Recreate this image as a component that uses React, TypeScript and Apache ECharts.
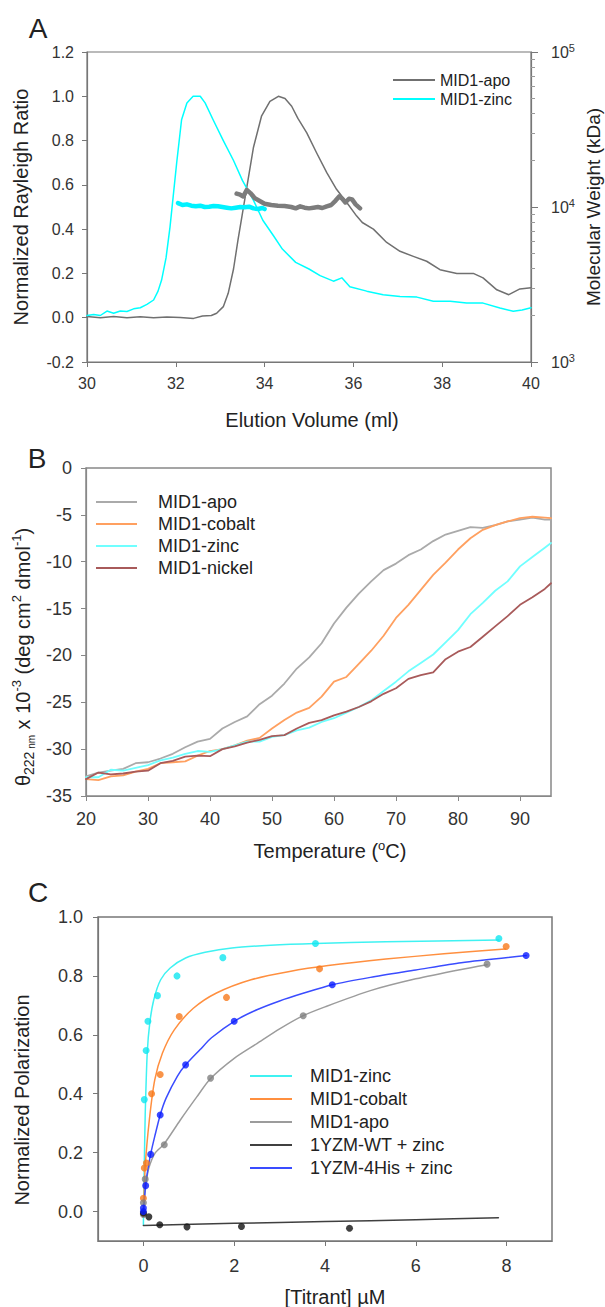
import React, { useEffect, useRef } from 'react';
import * as echarts from 'echarts';

const FONT = '"Liberation Sans", Arial, Helvetica, sans-serif';
const TXT = '#222';

// ---------- Panel A : SEC-MALS ----------
const aVolApo = [30.0,30.3,30.6,30.9,31.2,31.5,31.8,32.1,32.4,32.6,32.8,32.92,33.07,33.18,33.3,33.4,33.5,33.6,33.75,33.93,34.12,34.31,34.46,34.61,34.75,34.95,35.17,35.4,35.62,35.85,36.07,36.2,36.45,36.75,37.05,37.35,37.65,37.95,38.33,38.7,38.92,39.23,39.5,39.75,40.0];
const aRayApo = [0.005,0.0,0.006,0.0,0.004,0.0,0.003,0.001,-0.003,0.008,0.01,0.02,0.05,0.11,0.22,0.35,0.47,0.59,0.77,0.91,0.977,1.0,0.99,0.955,0.90,0.835,0.745,0.655,0.58,0.52,0.46,0.43,0.40,0.34,0.30,0.277,0.255,0.217,0.20,0.20,0.18,0.126,0.104,0.13,0.135];
const aVolZinc = [30.0,30.15,30.3,30.45,30.6,30.75,30.9,31.05,31.2,31.35,31.5,31.6,31.68,31.78,31.87,32.02,32.13,32.25,32.39,32.55,32.66,32.84,33.07,33.3,33.5,33.75,33.96,34.2,34.4,34.7,35.0,35.25,35.55,35.74,35.92,36.3,36.67,37.05,37.43,37.8,38.18,38.55,38.92,39.3,39.6,39.8,40.0];
const aRayZinc = [0.01,0.015,0.01,0.03,0.02,0.03,0.028,0.04,0.045,0.06,0.08,0.12,0.17,0.27,0.41,0.70,0.894,0.97,1.0,1.0,0.97,0.894,0.80,0.71,0.62,0.53,0.44,0.37,0.31,0.25,0.22,0.19,0.165,0.18,0.14,0.12,0.104,0.096,0.093,0.074,0.074,0.066,0.066,0.044,0.029,0.035,0.045];
const aVolZincMW = [32.05,32.15,32.25,32.35,32.45,32.55,32.65,32.75,32.85,32.95,33.05,33.15,33.25,33.35,33.45,33.55,33.65,33.75,33.85,33.95,34.0];
const aMWZinc = [10600,10300,10400,10200,10100,10200,10000,10050,10150,10100,10000,9900,9800,9900,10000,9950,10050,9800,9700,9850,9700];
const aVolApoMW = [33.37,33.45,33.52,33.6,33.68,33.78,33.9,34.0,34.15,34.3,34.45,34.6,34.7,34.8,34.9,35.0,35.1,35.2,35.3,35.4,35.5,35.6,35.68,35.75,35.82,35.9,35.97,36.05,36.15];
const aMWApo = [12200,12000,11700,12900,12300,11400,10900,10500,10300,10200,10150,10000,9800,10100,9900,9800,9900,10000,9850,10100,10300,11000,11700,11300,10700,11300,11200,10400,9800];

// ---------- Panel B : CD melts ----------
const bTemp = [20,22,24,26,28,30,32,34,36,38,40,42,44,46,48,50,52,54,56,58,60,62,64,66,68,70,72,74,76,78,80,82,84,86,88,90,92,94,95];
const bApo = [-32.9,-32.5,-32.3,-32.1,-31.5,-31.4,-31.0,-30.5,-29.8,-29.2,-28.9,-27.8,-27.1,-26.5,-25.2,-24.3,-23.0,-21.4,-20.2,-18.7,-16.6,-14.9,-13.4,-12.1,-10.9,-10.2,-9.3,-8.7,-7.8,-7.1,-6.7,-6.3,-6.4,-6.1,-5.7,-5.5,-5.3,-5.5,-5.5];
const bCobalt = [-33.2,-33.3,-32.9,-32.8,-32.4,-32.1,-31.5,-31.4,-31.3,-30.7,-30.2,-30.0,-29.6,-29.1,-28.8,-27.8,-26.9,-26.1,-25.6,-24.4,-22.8,-22.3,-20.9,-19.5,-17.9,-16.0,-14.6,-13.0,-11.4,-10.1,-8.7,-7.5,-6.6,-6.1,-5.7,-5.35,-5.2,-5.3,-5.35];
const bZinc = [-33.0,-33.0,-32.2,-32.3,-32.0,-31.7,-31.2,-30.9,-30.5,-30.2,-30.3,-30.0,-29.6,-29.2,-29.2,-28.7,-28.5,-28.0,-27.7,-27.1,-26.7,-26.1,-25.5,-24.8,-23.8,-22.8,-21.7,-20.8,-19.9,-18.6,-17.3,-15.6,-14.4,-13.1,-12.1,-10.5,-9.5,-8.5,-8.0];
const bNickel = [-33.2,-32.5,-32.7,-32.6,-32.4,-32.3,-31.5,-31.25,-30.8,-30.7,-30.75,-30.0,-29.7,-29.3,-29.0,-28.6,-28.5,-27.8,-27.2,-26.9,-26.4,-26.0,-25.5,-24.9,-24.1,-23.5,-22.5,-22.1,-21.8,-20.4,-19.6,-19.1,-18.0,-16.9,-15.8,-14.6,-13.8,-12.9,-12.3];
const bXTicks = [20,30,40,50,60,70,80,90];

// ---------- Panel C : fluorescence polarization ----------
const cZincPtX = [0.02,0.06,0.10,0.31,0.74,1.75,3.79,7.83];
const cZincPtY = [0.38,0.547,0.646,0.733,0.80,0.862,0.91,0.927];
const cZincFitX = [0,0.01,0.02,0.04,0.085,0.14,0.23,0.38,0.59,0.93,1.36,1.95,2.8,3.79,5.34,7.83];
const cZincFitY = [-0.045,0.07,0.16,0.33,0.54,0.64,0.72,0.787,0.827,0.861,0.88,0.895,0.904,0.91,0.916,0.922];
const cCobaltPtX = [0,0,0.02,0.066,0.18,0.37,0.79,1.83,3.88,7.99];
const cCobaltPtY = [-0.006,0.045,0.148,0.165,0.40,0.465,0.662,0.727,0.824,0.90];
const cCobaltFitX = [0,0.04,0.13,0.25,0.42,0.68,1.1,1.61,2.37,3.22,4.07,5.34,6.62,7.97];
const cCobaltFitY = [-0.01,0.153,0.31,0.447,0.538,0.617,0.69,0.742,0.787,0.815,0.835,0.857,0.875,0.891];
const cApoPtX = [0,0,0.04,0.46,1.48,3.52,7.57];
const cApoPtY = [-0.01,0.03,0.11,0.227,0.453,0.665,0.84];
const cApoFitX = [0,0.03,0.06,0.12,0.26,0.45,0.81,1.18,1.47,2.0,2.5,3.0,3.52,4.0,5.0,6.0,7.0,7.57];
const cApoFitY = [0.0,0.06,0.10,0.148,0.199,0.228,0.31,0.39,0.45,0.52,0.57,0.62,0.665,0.695,0.75,0.79,0.822,0.838];
const cWTPtX = [0,0.12,0.36,0.96,2.16,4.54];
const cWTPtY = [-0.005,-0.018,-0.045,-0.052,-0.051,-0.057];
const cWTFitX = [0,2,4,6,7.82];
const cWTFitY = [-0.047,-0.04,-0.034,-0.028,-0.021];
const cHisPtX = [0,0,0.05,0.16,0.37,0.93,2.0,4.16,8.43];
const cHisPtY = [0.0,0.012,0.088,0.194,0.328,0.498,0.646,0.77,0.869];
const cHisFitX = [0,0.05,0.1,0.16,0.25,0.37,0.5,0.75,0.93,1.25,1.5,2.0,2.5,3.0,3.5,4.16,5.0,6.0,7.0,8.43];
const cHisFitY = [0.0,0.09,0.145,0.195,0.255,0.328,0.385,0.46,0.498,0.55,0.59,0.646,0.685,0.715,0.74,0.77,0.795,0.82,0.845,0.869];
const cXTicks = [0,2,4,6,8];
const cYTicks = [0,0.2,0.4,0.6,0.8,1.0];

const zip = (xs: number[], ys: number[]) => xs.map((x, i) => [x, ys[i]]);

const C_ZINC = '#3ff2f2', C_COBALT = '#ff8f3f', C_APO = '#9c9c9c', C_WT = '#404040', C_HIS = '#3a4cff';

function axisBase(color: string, fontSize: number, margin: number) {
  return {
    axisLine: { show: true, onZero: false, lineStyle: { color, width: 1.2 } },
    axisTick: { show: true, length: 5, inside: false, lineStyle: { color, width: 1 } },
    axisLabel: { fontSize, margin, color: '#333', fontFamily: FONT },
    splitLine: { show: false },
  };
}

function lineSeries(name: string, xi: number, yi: number, data: number[][], color: string, width: number, z = 2, smooth: any = false) {
  return {
    name, type: 'line', xAxisIndex: xi, yAxisIndex: yi, data, symbol: 'none', z, smooth,
    lineStyle: { color, width, cap: 'round', join: 'round' }, itemStyle: { color },
  };
}
function dotSeries(name: string, data: number[][], color: string) {
  return {
    name, type: 'scatter', xAxisIndex: 2, yAxisIndex: 3, data, symbolSize: 7, z: 4,
    itemStyle: { color },
  };
}

const legendBase = {
  orient: 'vertical', icon: 'rect', itemHeight: 2, padding: 0, selectedMode: false,
};

const option: any = {
  animation: false,
  textStyle: { fontFamily: FONT },
  grid: [
    { left: 87, top: 52, width: 444, height: 310, show: true, borderColor: '#777', borderWidth: 1.2, backgroundColor: 'transparent' },
    { left: 86, top: 468, width: 465, height: 328, show: true, borderColor: '#888', borderWidth: 1.5, backgroundColor: 'transparent' },
    { left: 98, top: 917, width: 454, height: 324, show: true, borderColor: '#777', borderWidth: 1.5, backgroundColor: 'transparent' },
  ],
  xAxis: [
    { type: 'value', gridIndex: 0, min: 30, max: 40, interval: 2, ...axisBase('#777', 16, 13) },
    (() => {
      const b: any = axisBase('#888', 18, 14);
      b.axisTick.customValues = bXTicks;
      b.axisLabel.customValues = bXTicks;
      return { type: 'value', gridIndex: 1, min: 20, max: 95, ...b };
    })(),
    (() => {
      const b: any = axisBase('#777', 18, 16);
      b.axisTick.customValues = cXTicks;
      b.axisLabel.customValues = cXTicks;
      return { type: 'value', gridIndex: 2, min: -1, max: 9, ...b };
    })(),
  ],
  yAxis: [
    (() => {
      const b: any = axisBase('#777', 16, 13);
      b.axisLabel.formatter = (v: number) => v.toFixed(1);
      return { type: 'value', gridIndex: 0, min: -0.2, max: 1.2, interval: 0.2, ...b };
    })(),
    (() => {
      const b: any = axisBase('#777', 16, 20);
      b.axisTick.length = 7;
      b.axisLabel.formatter = (v: number) => `{b|10}{s|${Math.round(Math.log10(v))}}`;
      b.axisLabel.rich = {
        b: { fontSize: 16, lineHeight: 20, color: '#333', fontFamily: FONT },
        s: { fontSize: 11, lineHeight: 11, verticalAlign: 'top', color: '#333', fontFamily: FONT },
      };
      return {
        type: 'log', logBase: 10, gridIndex: 0, position: 'right', min: 1000, max: 100000, ...b,
        minorTick: { show: true, splitNumber: 9, length: 4, lineStyle: { color: '#999', width: 1 } },
        minorSplitLine: { show: false },
      };
    })(),
    { type: 'value', gridIndex: 1, min: -35, max: 0, interval: 5, ...axisBase('#888', 18, 14) },
    (() => {
      const b: any = axisBase('#777', 18, 15);
      b.axisTick.customValues = cYTicks;
      b.axisLabel.customValues = cYTicks;
      b.axisLabel.formatter = (v: number) => v.toFixed(1);
      return { type: 'value', gridIndex: 2, min: -0.1, max: 1.0, ...b };
    })(),
  ],
  legend: [
    {
      ...legendBase, left: 393, top: 72, itemWidth: 42, itemGap: 3,
      textStyle: { fontSize: 16, color: TXT, fontFamily: FONT },
      data: [
        { name: 'MID1-apo', itemStyle: { color: '#707070', borderWidth: 0 } },
        { name: 'MID1-zinc', itemStyle: { color: '#00ffff', borderWidth: 0 } },
      ],
    },
    {
      ...legendBase, left: 96, top: 493, itemWidth: 41, itemGap: 4,
      textStyle: { fontSize: 18, color: TXT, fontFamily: FONT, padding: [0, 0, 0, 16] },
      data: [
        { name: 'MID1-apo', itemStyle: { color: '#aaaaaa', borderWidth: 0 } },
        { name: 'MID1-cobalt', itemStyle: { color: '#ffa060', borderWidth: 0 } },
        { name: 'MID1-zinc', itemStyle: { color: '#70ffff', borderWidth: 0 } },
        { name: 'MID1-nickel', itemStyle: { color: '#a85a5a', borderWidth: 0 } },
      ],
    },
    {
      ...legendBase, left: 250, top: 1067, itemWidth: 42, itemGap: 5,
      textStyle: { fontSize: 18, color: TXT, fontFamily: FONT, padding: [0, 0, 0, 13] },
      data: [
        { name: 'MID1-zinc', itemStyle: { color: C_ZINC, borderWidth: 0 } },
        { name: 'MID1-cobalt', itemStyle: { color: C_COBALT, borderWidth: 0 } },
        { name: 'MID1-apo', itemStyle: { color: C_APO, borderWidth: 0 } },
        { name: '1YZM-WT + zinc', itemStyle: { color: C_WT, borderWidth: 0 } },
        { name: '1YZM-4His + zinc', itemStyle: { color: C_HIS, borderWidth: 0 } },
      ],
    },
  ],
  series: [
    // Panel A
    lineSeries('MID1-apo', 0, 0, zip(aVolApo, aRayApo), '#707070', 1.5),
    lineSeries('MID1-zinc', 0, 0, zip(aVolZinc, aRayZinc), '#00ffff', 1.5),
    lineSeries('MID1-apo MW', 0, 1, zip(aVolApoMW, aMWApo), '#7c7c7c', 4.5, 3),
    lineSeries('MID1-zinc MW', 0, 1, zip(aVolZincMW, aMWZinc), '#00f2ff', 4.5, 3),
    // Panel B
    lineSeries('MID1-apo', 1, 2, zip(bTemp, bApo), '#aaaaaa', 1.8),
    lineSeries('MID1-cobalt', 1, 2, zip(bTemp, bCobalt), '#ffa060', 1.8),
    lineSeries('MID1-zinc', 1, 2, zip(bTemp, bZinc), '#70ffff', 1.8),
    lineSeries('MID1-nickel', 1, 2, zip(bTemp, bNickel), '#a85a5a', 1.8),
    // Panel C curves
    lineSeries('MID1-zinc', 2, 3, zip(cZincFitX, cZincFitY), C_ZINC, 1.5, 2, 0.25),
    lineSeries('MID1-cobalt', 2, 3, zip(cCobaltFitX, cCobaltFitY), C_COBALT, 1.5, 2, 0.25),
    lineSeries('MID1-apo', 2, 3, zip(cApoFitX, cApoFitY), C_APO, 1.5, 2, 0.25),
    lineSeries('1YZM-WT + zinc', 2, 3, zip(cWTFitX, cWTFitY), C_WT, 1.5, 2, 0.25),
    lineSeries('1YZM-4His + zinc', 2, 3, zip(cHisFitX, cHisFitY), C_HIS, 1.5, 2, 0.25),
    // Panel C points
    dotSeries('MID1-zinc data', zip(cZincPtX, cZincPtY), '#10e6f0'),
    dotSeries('MID1-cobalt data', zip(cCobaltPtX, cCobaltPtY), '#f7791c'),
    dotSeries('MID1-apo data', zip(cApoPtX, cApoPtY), '#808080'),
    dotSeries('1YZM-WT data', zip(cWTPtX, cWTPtY), '#111111'),
    dotSeries('1YZM-4His data', zip(cHisPtX, cHisPtY), '#0a1cff'),
  ],
  graphic: [
    { type: 'text', x: 38, y: 28, style: { text: 'A', fontSize: 28, fontFamily: FONT, fill: TXT, align: 'center', verticalAlign: 'middle' } },
    { type: 'text', x: 37, y: 458, style: { text: 'B', fontSize: 28, fontFamily: FONT, fill: TXT, align: 'center', verticalAlign: 'middle' } },
    { type: 'text', x: 38, y: 892, style: { text: 'C', fontSize: 28, fontFamily: FONT, fill: TXT, align: 'center', verticalAlign: 'middle' } },
    { type: 'text', x: 21, y: 207, rotation: Math.PI / 2, style: { text: 'Normalized Rayleigh Ratio', fontSize: 20, fontFamily: FONT, fill: TXT, align: 'center', verticalAlign: 'middle' } },
    { type: 'text', x: 593, y: 207, rotation: Math.PI / 2, style: { text: 'Molecular Weight (kDa)', fontSize: 19, fontFamily: FONT, fill: TXT, align: 'center', verticalAlign: 'middle' } },
    { type: 'text', x: 312, y: 420, style: { text: 'Elution Volume (ml)', fontSize: 20, fontFamily: FONT, fill: TXT, align: 'center', verticalAlign: 'middle' } },
    {
      type: 'text', x: 23, y: 657, rotation: Math.PI / 2,
      style: {
        text: '{m|θ}{s1|222}{s2| nm}{m| x 10}{p|-3}{m| (deg cm}{p|2}{m| dmol}{p|-1}{m|)}',
        align: 'center', verticalAlign: 'middle', fill: TXT, fontFamily: FONT, fontSize: 20,
        rich: {
          m: { fontSize: 20, lineHeight: 26, fontFamily: FONT, fill: TXT },
          s1: { fontSize: 14, lineHeight: 14, verticalAlign: 'bottom', fontFamily: FONT, fill: TXT },
          s2: { fontSize: 10, lineHeight: 10, verticalAlign: 'bottom', fontFamily: FONT, fill: TXT },
          p: { fontSize: 13, lineHeight: 13, verticalAlign: 'top', fontFamily: FONT, fill: TXT },
        },
      },
    },
    {
      type: 'text', x: 330, y: 851,
      style: {
        text: '{m|Temperature (}{p|o}{m|C)}', align: 'center', verticalAlign: 'middle', fill: TXT, fontFamily: FONT, fontSize: 20,
        rich: {
          m: { fontSize: 20, lineHeight: 24, fontFamily: FONT, fill: TXT },
          p: { fontSize: 13, lineHeight: 13, verticalAlign: 'top', fontFamily: FONT, fill: TXT },
        },
      },
    },
    { type: 'text', x: 22, y: 1100, rotation: Math.PI / 2, style: { text: 'Normalized Polarization', fontSize: 20, fontFamily: FONT, fill: TXT, align: 'center', verticalAlign: 'middle' } },
    { type: 'text', x: 335, y: 1297, style: { text: '[Titrant] µM', fontSize: 20, fontFamily: FONT, fill: TXT, align: 'center', verticalAlign: 'middle' } },
  ],
};

export default function App() {
  const ref = useRef<HTMLDivElement>(null);
  useEffect(() => {
    const chart = echarts.init(ref.current as HTMLDivElement, null, { renderer: 'svg' });
    chart.setOption(option);
    return () => chart.dispose();
  }, []);
  return <div ref={ref} style={{ position: 'absolute', left: 0, top: 0, width: 605, height: 1307, background: '#fff' }} />;
}
